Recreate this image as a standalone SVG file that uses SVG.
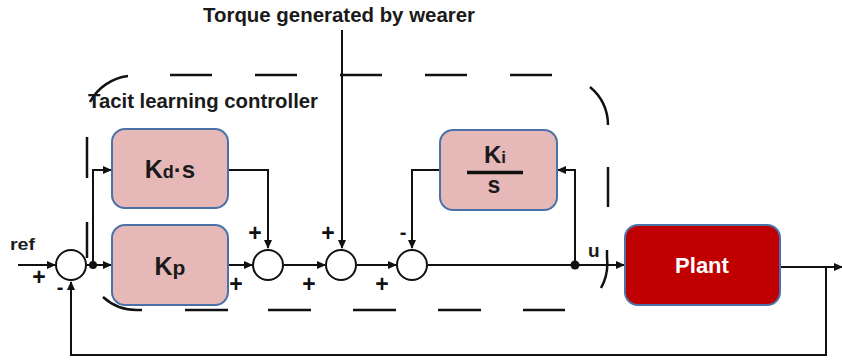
<svg xmlns="http://www.w3.org/2000/svg" width="842" height="364" viewBox="0 0 842 364">
<style>
.txt{font-family:"Liberation Sans",Arial,sans-serif;font-weight:bold;fill:#1a1a1a}
.blk{fill:#e6b9b8;stroke:#4a72a8;stroke-width:2}
.plant{fill:#c00000;stroke:#4a72a8;stroke-width:2}
.sum{fill:#fff;stroke:#111;stroke-width:2}
.arr{fill:none;stroke:#111;stroke-width:2;marker-end:url(#ah)}
.dash{fill:none;stroke:#111;stroke-width:2.5}
.sign{font-family:"Liberation Sans",Arial,sans-serif;font-weight:bold;font-size:23px;fill:#111;text-anchor:middle}
.minus{font-family:"Liberation Sans",Arial,sans-serif;font-weight:bold;font-size:20px;fill:#111;text-anchor:middle}
</style>
<defs>
<marker id="ah" markerUnits="userSpaceOnUse" markerWidth="9" markerHeight="8" refX="8" refY="4" orient="auto">
<path d="M0,0 L9,4 L0,8 z" fill="#111"/>
</marker>
</defs>
<rect width="842" height="364" fill="#fff"/>

<g id="boundary">
<path class="dash" stroke-width="1.6" d="M170,75H212M255,75H297M340,75H382M425,75H467M510,75H552"/>
<path class="dash" d="M128,76 A50,50 0 0 0 90,102"/>
<path class="dash" d="M590,87 A50,50 0 0 1 608,125"/>
<path class="dash" d="M608,167V207"/>
<path class="dash" d="M607,250V258 A50,50 0 0 1 601,288"/>
<path class="dash" stroke-width="3" d="M185,310H228M268,310H311M353,310H396M438,310H481M523,310H565"/>
<path class="dash" stroke-width="3" d="M142,310H137 A50,50 0 0 1 103,297"/>
<path class="dash" stroke-width="1.6" d="M87,137V178M87,222V258"/>
<text class="txt" x="88" y="108" font-size="20" textLength="230" lengthAdjust="spacingAndGlyphs">Tacit learning controller</text>
</g>

<g id="connectors">
<path class="arr" d="M18,265H55"/>
<path class="arr" d="M87,265H111"/>
<path class="arr" d="M93,265V170H111"/>
<path class="arr" d="M228,170H268V248"/>
<path class="arr" d="M228,265H252"/>
<path class="arr" d="M284,265H325"/>
<path class="arr" d="M342,30V248"/>
<path class="arr" d="M357,265H396"/>
<path class="arr" d="M428,265H624"/>
<path class="arr" d="M575,265V170H558"/>
<path class="arr" d="M440,170H412V248"/>
<path class="arr" d="M780,267H842"/>
<path class="arr" d="M826,267V355H71V282"/>
<circle cx="93" cy="265" r="4" fill="#111"/>
<circle cx="575" cy="265" r="4.5" fill="#111"/>
</g>

<g id="labels">
<text class="txt" x="203" y="22" font-size="20" textLength="272" lengthAdjust="spacingAndGlyphs">Torque generated by wearer</text>
<text class="txt" x="10" y="250" font-size="17" textLength="25" lengthAdjust="spacingAndGlyphs">ref</text>
<text class="txt" x="588" y="257" font-size="19">u</text>
<text class="sign" x="39" y="285">+</text>
<text class="minus" x="60" y="294">-</text>
<text class="sign" x="255" y="241">+</text>
<text class="sign" x="236" y="292">+</text>
<text class="sign" x="328" y="241">+</text>
<text class="sign" x="309" y="292">+</text>
<text class="minus" x="403" y="239">-</text>
<text class="sign" x="382" y="292">+</text>
</g>

<g id="sum0"><circle class="sum" cx="71" cy="265" r="15"/></g>
<g id="sum1"><circle class="sum" cx="268" cy="265" r="15"/></g>
<g id="sum2"><circle class="sum" cx="341" cy="265" r="15"/></g>
<g id="sum3"><circle class="sum" cx="412" cy="265" r="15"/></g>

<g id="kd">
<rect class="blk" x="112" y="129" width="116" height="79" rx="13"/>
<text class="txt" x="170" y="178" text-anchor="middle"><tspan font-size="25">K</tspan><tspan font-size="18">d</tspan><tspan font-size="24">·s</tspan></text>
</g>
<g id="kp">
<rect class="blk" x="112" y="225" width="116" height="80" rx="13"/>
<text class="txt" x="170" y="275" text-anchor="middle"><tspan font-size="25">K</tspan><tspan font-size="21">p</tspan></text>
</g>
<g id="ki">
<rect class="blk" x="440" y="130" width="117" height="80" rx="13"/>
<text class="txt" x="495" y="163" text-anchor="middle"><tspan font-size="24">K</tspan><tspan font-size="17">i</tspan></text>
<line x1="467" y1="172.5" x2="523" y2="172.5" stroke="#111" stroke-width="3.5"/>
<text class="txt" x="494" y="193" text-anchor="middle" font-size="23">s</text>
</g>
<g id="plant">
<rect class="plant" x="625" y="225" width="155" height="80" rx="13"/>
<text x="702" y="273" text-anchor="middle" font-family="Liberation Sans,Arial,sans-serif" font-weight="bold" font-size="22" fill="#fff">Plant</text>
</g>
</svg>
